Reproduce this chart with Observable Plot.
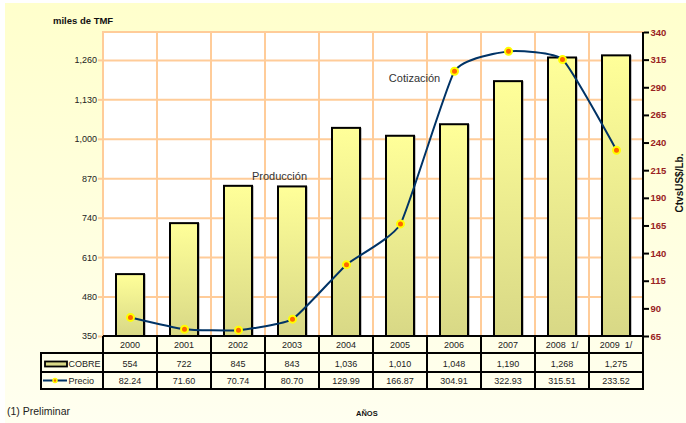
<!DOCTYPE html>
<html><head><meta charset="utf-8">
<script src="https://cdn.jsdelivr.net/npm/d3@7"></script>
<script src="https://cdn.jsdelivr.net/npm/@observablehq/plot@0.6"></script>
<style>body{margin:0;background:#fff;} svg{display:block}</style>
</head><body><div id="chart"></div>
<script>
const years = ["2000","2001","2002","2003","2004","2005","2006","2007","2008","2009"];
const yearLabels = ["2000","2001","2002","2003","2004","2005","2006","2007","2008  1/","2009  1/"];
const cobre = [554,722,845,843,1036,1010,1048,1190,1268,1275];
const precio = [82.24,71.60,70.74,80.70,129.99,166.87,304.91,322.93,315.51,233.52];
const leftTicks = [350,480,610,740,870,1000,1130,1260];
const rightTicks = [65,90,115,140,165,190,215,240,265,290,315,340];
const annotProd = [{year:"2003", value:878, label:"Producción"}];
const annotCot = [{year:"2005", value:1200, label:"Cotización"}];

const W = 686, H = 423, mL = 103, mR = 43, mT = 32, mB = 87;
const yMin = 350, yMax = 1352, pMin = 65, pMax = 340;
const pToY = p => yMin + (p - pMin) * (yMax - yMin) / (pMax - pMin);
const yToP = v => pMin + (v - yMin) * (pMax - pMin) / (yMax - yMin);
const data = years.map((y, i) => ({year: y, label: yearLabels[i], cobre: cobre[i], precio: precio[i]}));
const font = "'Liberation Sans', Arial, sans-serif";

const plot = Plot.plot({
  width: W, height: H, marginLeft: mL, marginRight: mR, marginTop: mT, marginBottom: mB,
  style: {background: "transparent", fontFamily: font, fontSize: "9px", color: "#222"},
  x: {type: "band", domain: years, padding: 0, axis: null},
  y: {domain: [yMin, yMax], label: null},
  marks: [
    Plot.barY(years, {x: d => d, y1: yMin, y2: yMax, fill: "white", stroke: "#FFCC99", strokeWidth: 2}),
    Plot.gridY(leftTicks.slice(1), {stroke: "#FFCC99", strokeOpacity: 1, strokeWidth: 2}),
    Plot.axisY(leftTicks, {anchor: "left", tickSize: 5, tickPadding: 1.5, stroke: "#FFCC99", strokeWidth: 2, fill: "#222", tickFormat: d3.format(","), label: null, fontSize: 9}),
    Plot.axisY(rightTicks.map(pToY), {anchor: "right", tickSize: 5, tickPadding: 2, stroke: "black", strokeWidth: 2, fill: "#992222", fontWeight: "bold", fontSize: 9.5, tickFormat: v => Math.round(yToP(v)), label: null}),
    Plot.barY(data, {x: "year", y1: yMin, y2: "cobre", insetLeft: 13, insetRight: 13, fill: "#888", fillOpacity: 0.5, dx: 2}),
    Plot.barY(data, {x: "year", y1: yMin, y2: "cobre", insetLeft: 13, insetRight: 13, fill: "url(#barGrad)", stroke: "black", strokeWidth: 2}),
    Plot.line(data, {x: "year", y: d => pToY(d.precio), stroke: "#003366", strokeWidth: 2, curve: "cardinal", tension: 0.55}),
    Plot.dot(data, {x: "year", y: d => pToY(d.precio), r: 3.5, fill: "#FF6600", stroke: "#FFFF00", strokeWidth: 2}),
    Plot.text(annotProd, {x: "year", y: "value", text: "label", dx: -13, fontSize: 11, fill: "#333"}),
    Plot.text(annotCot, {x: "year", y: "value", text: "label", dx: 14, fontSize: 11, fill: "#333"})
  ]
});

const svg = d3.select(plot);
const defs = svg.insert("defs", ":first-child");
const bg = defs.append("linearGradient").attr("id", "bgGrad").attr("x1", 0).attr("y1", 0).attr("x2", 0).attr("y2", 1);
bg.append("stop").attr("offset", "0%").attr("stop-color", "#FFFFCC");
bg.append("stop").attr("offset", "100%").attr("stop-color", "#FFFFF0");
const bgr = defs.append("linearGradient").attr("id", "barGrad").attr("x1", 0).attr("y1", 0).attr("x2", 0).attr("y2", 1);
bgr.append("stop").attr("offset", "0%").attr("stop-color", "#FFFF99");
bgr.append("stop").attr("offset", "100%").attr("stop-color", "#D8D886");
svg.insert("rect", "defs + *").attr("x", 5).attr("y", 3).attr("width", W - 5).attr("height", H - 3).attr("fill", "url(#bgGrad)");

const xs = plot.scale("x");
const bw = xs.bandwidth;
const x0 = mL, x1 = W - mR, yb = H - mB;
const rows = [yb, yb + 17, yb + 36, yb + 53];
const legX = 41;
const g = svg.append("g").attr("font-family", font).attr("font-size", 9).attr("fill", "#222").attr("text-anchor", "start");

// right axis line
g.append("line").attr("x1", x1).attr("x2", x1).attr("y1", mT).attr("y2", rows[3]).attr("stroke", "black").attr("stroke-width", 2);
// table lines
g.append("line").attr("x1", x0).attr("x2", x1 + 1).attr("y1", rows[0]).attr("y2", rows[0]).attr("stroke", "black").attr("stroke-width", 2);
for (let r = 1; r < 4; r++) g.append("line").attr("x1", legX - 1).attr("x2", x1 + 1).attr("y1", rows[r]).attr("y2", rows[r]).attr("stroke", "black").attr("stroke-width", 2);
years.forEach(y => {
  const xx = xs.apply(y);
  g.append("line").attr("x1", xx).attr("x2", xx).attr("y1", rows[0]).attr("y2", rows[3]).attr("stroke", "black").attr("stroke-width", 2);
});
g.append("line").attr("x1", legX).attr("x2", legX).attr("y1", rows[1]).attr("y2", rows[3]).attr("stroke", "black").attr("stroke-width", 2);

// table texts
data.forEach(d => {
  const cx = xs.apply(d.year) + bw / 2;
  g.append("text").attr("x", cx).attr("y", rows[0] + 12).attr("text-anchor", "middle").style("white-space", "pre").attr("xml:space", "preserve").text(d.label);
  g.append("text").attr("x", cx).attr("y", rows[1] + 13.5).attr("text-anchor", "middle").text(d3.format(",")(d.cobre));
  g.append("text").attr("x", cx).attr("y", rows[2] + 11.5).attr("text-anchor", "middle").text(d3.format(".2f")(d.precio));
});

// legend cells
g.append("rect").attr("x", 45).attr("y", rows[1] + 8.5).attr("width", 22).attr("height", 5).attr("fill", "#D8D886").attr("stroke", "black").attr("stroke-width", 1.8);
g.append("text").attr("x", 68.5).attr("y", rows[1] + 13.5).text("COBRE");
g.append("line").attr("x1", 43).attr("x2", 67).attr("y1", rows[2] + 8.5).attr("y2", rows[2] + 8.5).attr("stroke", "#003366").attr("stroke-width", 2);
g.append("circle").attr("cx", 55).attr("cy", rows[2] + 8.5).attr("r", 2).attr("fill", "#FF6600").attr("stroke", "#FFFF00").attr("stroke-width", 1.5);
g.append("text").attr("x", 68.5).attr("y", rows[2] + 12).text("Precio");

// titles
g.append("text").attr("x", 53).attr("y", 24).attr("font-weight", "bold").attr("font-size", 9.5).attr("fill", "#111").text("miles de TMF");
g.append("text").attr("transform", "translate(683,183) rotate(-90)").attr("text-anchor", "middle").attr("font-weight", "bold").attr("font-size", 10).attr("fill", "#111").text("CtvsUS$/Lb.");
g.append("text").attr("x", 7).attr("y", 415).attr("font-size", 10.5).attr("fill", "#222").text("(1) Preliminar");
g.append("text").attr("x", 356).attr("y", 416).attr("font-weight", "bold").attr("font-size", 7.5).attr("fill", "#111").text("AÑOS");

document.getElementById("chart").appendChild(plot);
</script>
</body></html>
